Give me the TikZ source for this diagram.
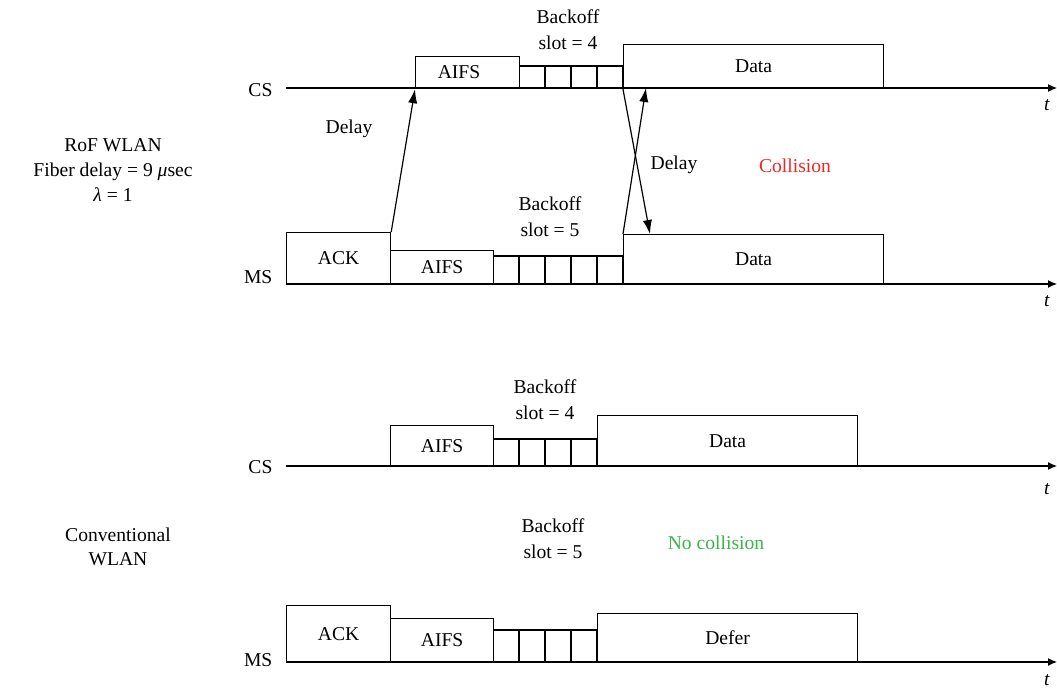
\documentclass[tikz,border=0pt]{standalone}
\usepackage{fontspec}
\setmainfont{Liberation Serif}
\usetikzlibrary{arrows.meta}
\definecolor{colred}{RGB}{237,40,36}
\definecolor{colgreen}{RGB}{57,181,74}
\newcommand\tbox[6]{\node[draw, inner sep=0pt, minimum width={(#4-#2)*0.5pt}, minimum height={(#5-#3)*0.5pt}, anchor=north west] (#1) at (#2,#3) {#6};}
\newcommand\slots[4]{\draw (#1,#2) -- ({#1+#4*26},#2);\foreach \k in {1,...,#4}{\draw ({#1+\k*26},#2) -- ({#1+\k*26},#3);}}
\begin{document}
\begin{tikzpicture}[x=0.5pt,y=-0.5pt, line width=0.6pt,
  font=\fontsize{9.8}{12.3}\selectfont,
  lbl/.style={inner sep=0pt, align=center},
  bolbl/.style={inner sep=0pt, align=center, font=\fontsize{9.8}{13}\selectfont},
  axis/.style={-{Latex[length=4.5pt,width=4pt]}},
  delayarrow/.style={-{Latex[length=7pt,width=4.6pt]}}]
\useasboundingbox (0,0) rectangle (1057,688);

% ---------- RoF WLAN: CS ----------
\coordinate (cs1s) at (286,88);
\coordinate (cs1e) at (1057,88);
\draw[axis] (cs1s) -- (cs1e);
\node[lbl, anchor=east] (cs1lab) at (273,90) {CS};
\node[lbl] (cs1t) at (1047,105) {\textit{t}};
\tbox{cAIFS}{415}{56}{519}{88}{}
\node[lbl] (cAIFSt) at (459,72) {AIFS};
\slots{519}{66}{88}{4}
\tbox{cData}{623}{44}{883}{88}{Data}
\node[bolbl] (cbo) at (568,30) {Backoff\\slot = 4};

% ---------- RoF WLAN: MS ----------
\coordinate (ms1s) at (286,284);
\coordinate (ms1e) at (1057,284);
\draw[axis] (ms1s) -- (ms1e);
\node[lbl, anchor=east] (ms1lab) at (273,277) {MS};
\node[lbl] (ms1t) at (1047,301) {\textit{t}};
\tbox{mACK}{286}{232}{390}{284}{ACK}
\tbox{mAIFS}{390}{250}{493}{284}{AIFS}
\slots{493}{256}{284}{5}
\tbox{mData}{623}{234}{883}{284}{Data}
\node[bolbl] (mbo) at (550,217) {Backoff\\slot = 5};

% delays
\coordinate (dA) at (650,234);
\coordinate (dB) at (646,88);
\draw[delayarrow] (mACK.north east) -- (cAIFS.south west);
\draw[delayarrow] (cData.south west) -- (dA);
\draw[delayarrow] (mData.north west) -- (dB);
\node[lbl] (d1) at (349,129) {Delay};
\node[lbl] (d2) at (674,165) {Delay};
\node[lbl, text=colred] (coll) at (795,166) {Collision};

\node[lbl] (rof) at (113,170) {RoF WLAN\\Fiber delay = 9 \textit{μ}sec\\\textit{λ} = 1};

% ---------- Conventional WLAN: CS ----------
\coordinate (cs2s) at (286,466);
\coordinate (cs2e) at (1057,466);
\draw[axis] (cs2s) -- (cs2e);
\node[lbl, anchor=east] (cs2lab) at (273,467) {CS};
\node[lbl] (cs2t) at (1047,489) {\textit{t}};
\tbox{c2AIFS}{390}{425}{493}{466}{AIFS}
\slots{493}{439}{466}{4}
\tbox{c2Data}{597}{415}{857}{466}{Data}
\node[bolbl] (c2bo) at (545,400) {Backoff\\slot = 4};

% ---------- Conventional WLAN: MS ----------
\coordinate (ms2s) at (286,662);
\coordinate (ms2e) at (1057,662);
\draw[axis] (ms2s) -- (ms2e);
\node[lbl, anchor=east] (ms2lab) at (273,660) {MS};
\node[lbl] (ms2t) at (1047,680) {\textit{t}};
\tbox{m2ACK}{286}{605}{390}{662}{ACK}
\tbox{m2AIFS}{390}{618}{493}{662}{AIFS}
\slots{493}{630}{662}{4}
\tbox{m2Defer}{597}{613}{857}{662}{Defer}
\node[bolbl] (m2bo) at (553,539) {Backoff\\slot = 5};
\node[lbl, text=colgreen] (nocoll) at (716,543) {No collision};

\node[lbl] (conv) at (118,547) {Conventional\\WLAN};
\end{tikzpicture}
\end{document}
